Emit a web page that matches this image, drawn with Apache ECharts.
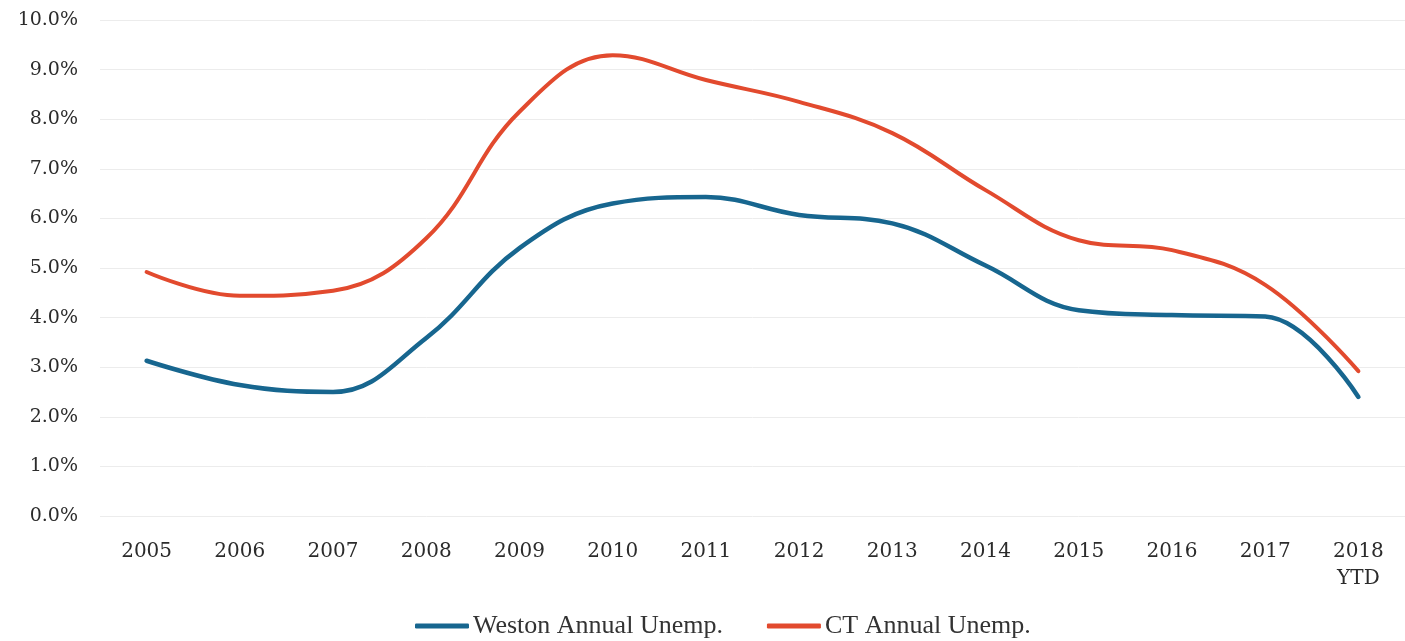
<!DOCTYPE html>
<html>
<head>
<meta charset="utf-8">
<script src="https://cdn.jsdelivr.net/npm/echarts@6/dist/echarts.min.js"></script>
<style>
  html, body { margin: 0; padding: 0; background: #fff; }
  #chart { width: 1405px; height: 641px; }
</style>
</head>
<body>
<div id="chart"></div>
<script>
// categories and values
const years = ['2005', '2006', '2007', '2008', '2009', '2010', '2011', '2012', '2013', '2014', '2015', '2016', '2017', '2018\nYTD']
const weston = [3.13, 2.64, 2.5, 3.59, 5.4, 6.3, 6.43, 6.07, 5.9, 5.05, 4.15, 4.05, 4.02, 2.4]
const ct = [4.92, 4.44, 4.54, 5.6, 8.15, 9.29, 8.79, 8.35, 7.72, 6.57, 5.56, 5.36, 4.66, 2.92]
const yTicks = { min: 0, max: 10, interval: 1 }

const chart = echarts.init(document.getElementById('chart'))
const serif = '"DejaVu Serif", "Liberation Serif", serif'
const legendSerif = '"Liberation Serif", serif'

chart.setOption({
  animation: false,
  grid: { left: 100, top: 20, width: 1315, bottom: 125, containLabel: false },
  legend: {
    bottom: -3,
    left: 410,
    itemWidth: 54,
    itemHeight: 5,
    itemGap: 44,
    icon: 'roundRect',
    textStyle: { fontFamily: legendSerif, fontSize: 26, color: '#333', padding: [0, 0, 0, -1] },
    data: ['Weston Annual Unemp.', 'CT Annual Unemp.'],
  },
  xAxis: {
    type: 'category',
    data: years,
    boundaryGap: true,
    axisLine: { show: false },
    axisTick: { show: false },
    axisLabel: {
      margin: 22,
      fontFamily: serif,
      fontSize: 20,
      color: '#2b2b2b',
      lineHeight: 27,
    },
  },
  yAxis: {
    type: 'value',
    min: yTicks.min,
    max: yTicks.max,
    interval: yTicks.interval,
    axisLine: { show: false },
    axisTick: { show: false },
    splitLine: { lineStyle: { color: '#ececec', width: 1 } },
    axisLabel: {
      margin: 22,
      fontFamily: serif,
      fontSize: 19,
      color: '#2b2b2b',
      formatter: (v) => v.toFixed(1) + '%',
    },
  },
  series: [
    {
      name: 'Weston Annual Unemp.',
      type: 'line',
      data: weston,
      smooth: 0.4,
      symbol: 'none',
      itemStyle: { color: '#17668f' },
      lineStyle: { width: 4.5, cap: 'round' },
    },
    {
      name: 'CT Annual Unemp.',
      type: 'line',
      data: ct,
      smooth: 0.4,
      symbol: 'none',
      itemStyle: { color: '#e24a2e' },
      lineStyle: { width: 4, cap: 'round' },
    },
  ],
})
</script>
</body>
</html>
